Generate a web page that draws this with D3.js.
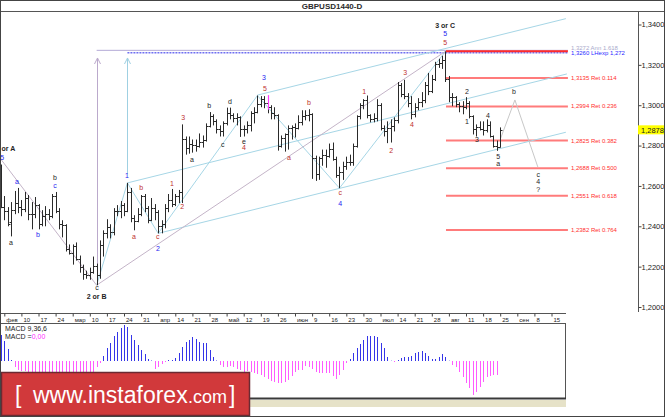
<!DOCTYPE html>
<html><head><meta charset="utf-8">
<script src="https://cdn.jsdelivr.net/npm/d3@7"></script>
<style>
html,body{margin:0;padding:0;background:#fff;}
svg{display:block;}
text{font-family:"Liberation Sans",Arial,sans-serif;}
</style></head><body>
<svg id="c" width="665" height="417"></svg>
<script>
// ---------------- DATA ----------------
const title = "GBPUSD1440-D";
// daily OHLC, first row is drawn at bar index -1
const startIndex = -1;
const ohlc = [
["02.02",1.2620,1.2706,1.2490,1.2494],["03.02",1.2494,1.2550,1.2430,1.2478],
["06.02",1.2478,1.2495,1.2400,1.2410],["07.02",1.2420,1.2520,1.2350,1.2480],["08.02",1.2480,1.2575,1.2460,1.2515],["09.02",1.2515,1.2590,1.2465,1.2495],["10.02",1.2495,1.2530,1.2450,1.2485],
["13.02",1.2485,1.2570,1.2470,1.2540],["14.02",1.2540,1.2555,1.2430,1.2460],["15.02",1.2460,1.2520,1.2385,1.2460],["16.02",1.2460,1.2545,1.2440,1.2505],["17.02",1.2505,1.2510,1.2385,1.2410],
["20.02",1.2410,1.2480,1.2400,1.2450],["21.02",1.2450,1.2500,1.2400,1.2460],["22.02",1.2460,1.2485,1.2430,1.2450],["23.02",1.2450,1.2560,1.2440,1.2550],["24.02",1.2550,1.2570,1.2465,1.2475],
["27.02",1.2475,1.2490,1.2385,1.2410],["28.02",1.2410,1.2430,1.2345,1.2405],["01.03",1.2405,1.2410,1.2275,1.2285],["02.03",1.2285,1.2310,1.2260,1.2270],["03.03",1.2270,1.2310,1.2210,1.2300],
["06.03",1.2300,1.2320,1.2230,1.2240],["07.03",1.2240,1.2255,1.2170,1.2200],["08.03",1.2200,1.2210,1.2135,1.2165],["09.03",1.2165,1.2180,1.2140,1.2160],["10.03",1.2160,1.2195,1.2135,1.2175],
["13.03",1.2175,1.2250,1.2165,1.2205],["14.03",1.2205,1.2215,1.2108,1.2160],["15.03",1.2160,1.2330,1.2140,1.2305],["16.03",1.2305,1.2380,1.2250,1.2365],["17.03",1.2365,1.2435,1.2340,1.2395],
["20.03",1.2395,1.2410,1.2340,1.2370],["21.03",1.2370,1.2490,1.2355,1.2475],["22.03",1.2475,1.2505,1.2450,1.2475],["23.03",1.2475,1.2525,1.2440,1.2505],["24.03",1.2505,1.2515,1.2450,1.2475],
["27.03",1.2475,1.2615,1.2470,1.2570],["28.03",1.2570,1.2590,1.2420,1.2440],["29.03",1.2440,1.2455,1.2380,1.2425],["30.03",1.2425,1.2490,1.2420,1.2460],["31.03",1.2460,1.2555,1.2450,1.2550],
["03.04",1.2550,1.2560,1.2470,1.2490],["04.04",1.2490,1.2500,1.2415,1.2430],["05.04",1.2430,1.2540,1.2425,1.2490],["06.04",1.2490,1.2510,1.2430,1.2470],["07.04",1.2470,1.2480,1.2365,1.2400],
["10.04",1.2400,1.2430,1.2365,1.2410],["11.04",1.2410,1.2510,1.2390,1.2490],["12.04",1.2490,1.2560,1.2470,1.2530],["13.04",1.2530,1.2585,1.2495,1.2510],["14.04",1.2510,1.2560,1.2500,1.2550],
["17.04",1.2550,1.2580,1.2515,1.2570],["18.04",1.2570,1.2905,1.2515,1.2835],["19.04",1.2835,1.2845,1.2755,1.2790],["20.04",1.2790,1.2845,1.2760,1.2810],["21.04",1.2810,1.2830,1.2765,1.2805],
["24.04",1.2805,1.2830,1.2770,1.2800],["25.04",1.2800,1.2860,1.2790,1.2820],["26.04",1.2820,1.2850,1.2790,1.2830],["27.04",1.2830,1.2910,1.2820,1.2895],["28.04",1.2895,1.2966,1.2890,1.2945],
["01.05",1.2945,1.2955,1.2900,1.2920],["02.05",1.2920,1.2930,1.2860,1.2880],["03.05",1.2880,1.2900,1.2845,1.2870],["04.05",1.2870,1.2920,1.2845,1.2910],["05.05",1.2910,1.2988,1.2900,1.2960],
["08.05",1.2960,1.2988,1.2930,1.2950],["09.05",1.2950,1.2960,1.2915,1.2935],["10.05",1.2935,1.2960,1.2900,1.2940],["11.05",1.2940,1.2945,1.2843,1.2880],["12.05",1.2880,1.2900,1.2845,1.2880],
["15.05",1.2880,1.2920,1.2860,1.2900],["16.05",1.2900,1.2970,1.2870,1.2960],["17.05",1.2960,1.2990,1.2910,1.2965],["18.05",1.2965,1.3048,1.2960,1.3005],["19.05",1.3005,1.3045,1.2990,1.3030],
["22.05",1.3030,1.3045,1.2985,1.3010],["23.05",1.3010,1.3025,1.2960,1.2990],["24.05",1.2990,1.3000,1.2930,1.2960],["25.05",1.2960,1.2990,1.2930,1.2950],["26.05",1.2950,1.2955,1.2775,1.2800],
["29.05",1.2800,1.2850,1.2790,1.2840],["30.05",1.2840,1.2860,1.2770,1.2855],["31.05",1.2855,1.2900,1.2780,1.2885],["01.06",1.2885,1.2900,1.2830,1.2890],["02.06",1.2890,1.2910,1.2840,1.2885],
["05.06",1.2885,1.2950,1.2880,1.2915],["06.06",1.2915,1.2975,1.2900,1.2945],["07.06",1.2945,1.2975,1.2925,1.2950],["08.06",1.2950,1.2980,1.2920,1.2955],["09.06",1.2955,1.2960,1.2635,1.2740],
["12.06",1.2740,1.2750,1.2625,1.2660],["13.06",1.2660,1.2745,1.2630,1.2740],["14.06",1.2740,1.2780,1.2700,1.2755],["15.06",1.2755,1.2780,1.2690,1.2750],["16.06",1.2750,1.2810,1.2740,1.2785],
["19.06",1.2785,1.2815,1.2725,1.2735],["20.06",1.2735,1.2745,1.2640,1.2655],["21.06",1.2655,1.2695,1.2589,1.2670],["22.06",1.2670,1.2720,1.2630,1.2700],["23.06",1.2700,1.2745,1.2680,1.2720],
["26.06",1.2720,1.2755,1.2700,1.2720],["27.06",1.2720,1.2810,1.2700,1.2800],["28.06",1.2800,1.2950,1.2790,1.2945],["29.06",1.2945,1.3010,1.2930,1.3000],["30.06",1.3000,1.3030,1.2980,1.3025],
["03.07",1.3025,1.3048,1.2935,1.2950],["04.07",1.2950,1.2955,1.2915,1.2930],["05.07",1.2930,1.2960,1.2915,1.2935],["06.07",1.2935,1.3030,1.2920,1.3000],["07.07",1.3000,1.3010,1.2875,1.2885],
["10.07",1.2885,1.2900,1.2845,1.2870],["11.07",1.2870,1.2920,1.2812,1.2885],["12.07",1.2885,1.2930,1.2815,1.2895],["13.07",1.2895,1.2940,1.2870,1.2925],["14.07",1.2925,1.3115,1.2910,1.3100],
["17.07",1.3100,1.3110,1.3040,1.3055],["18.07",1.3055,1.3126,1.3030,1.3045],["19.07",1.3045,1.3060,1.2990,1.3010],["20.07",1.3010,1.3045,1.2930,1.2955],["21.07",1.2955,1.3010,1.2940,1.2990],
["24.07",1.2990,1.3035,1.2975,1.3015],["25.07",1.3015,1.3065,1.2990,1.3025],["26.07",1.3025,1.3115,1.3010,1.3100],["27.07",1.3100,1.3160,1.3050,1.3070],["28.07",1.3070,1.3150,1.3060,1.3130],
["31.07",1.3130,1.3215,1.3120,1.3205],["01.08",1.3205,1.3230,1.3185,1.3210],["02.08",1.3210,1.3245,1.3180,1.3225],["03.08",1.3225,1.3267,1.3115,1.3130],["04.08",1.3130,1.3145,1.3015,1.3040],
["07.08",1.3040,1.3060,1.2995,1.3040],["08.08",1.3040,1.3045,1.2990,1.3005],["09.08",1.3005,1.3015,1.2965,1.2995],["10.08",1.2995,1.3020,1.2955,1.2990],["11.08",1.2990,1.3040,1.2980,1.3010],
["14.08",1.3010,1.3020,1.2935,1.2945],["15.08",1.2945,1.2950,1.2855,1.2880],["16.08",1.2880,1.2905,1.2845,1.2890],["17.08",1.2890,1.2920,1.2875,1.2880],["18.08",1.2880,1.2920,1.2850,1.2875],
["21.08",1.2875,1.2930,1.2865,1.2900],["22.08",1.2900,1.2920,1.2840,1.2845],["23.08",1.2845,1.2850,1.2790,1.2800],["24.08",1.2800,1.2825,1.2774,1.2795],["25.08",1.2795,1.2890,1.2790,1.2878]
];
const lastPrice = 1.2878;

// MACD 9,36,6 histogram, one value per bar (same start index)
const macdHist = [
0.0026,0.0020,0.0012,0.0001,-0.0006,-0.0009,-0.0010,-0.0010,-0.0011,-0.0011,
-0.0012,-0.0013,-0.0013,-0.0012,-0.0012,-0.0011,-0.0011,-0.0012,-0.0013,-0.0015,
-0.0016,-0.0017,-0.0018,-0.0019,-0.0019,-0.0018,-0.0016,-0.0012,-0.0006,-0.0002,
0.0005,0.0013,0.0018,0.0025,0.0029,0.0033,0.0036,0.0034,0.0026,0.0021,
0.0016,0.0011,0.0007,0.0002,0.00005,-0.0008,-0.0006,-0.0003,-0.0001,0.0001,
0.0001,0.0003,0.0008,0.0014,0.0019,0.0021,0.0024,0.0022,0.0019,0.0018,
0.0018,0.0011,0.0004,0.00005,-0.0004,-0.0006,-0.0006,-0.0005,-0.0006,-0.0008,
-0.0009,-0.0011,-0.0010,-0.0011,-0.0012,-0.0013,-0.0014,-0.0016,-0.0018,-0.0020,
-0.0021,-0.0022,-0.0022,-0.0021,-0.0019,-0.0015,-0.0011,-0.0009,-0.0009,-0.0005,
-0.0006,-0.0008,-0.0011,-0.0012,-0.0012,-0.0012,-0.0012,-0.0015,-0.0018,-0.0014,
-0.0009,-0.0002,0.0002,0.0008,0.0013,0.0017,0.0021,0.0025,0.0025,0.0025,
0.0024,0.0018,0.0013,0.0004,0.00003,-0.0001,0.0001,0.0003,0.0004,0.0004,
0.0005,0.0008,0.0009,0.0010,0.0008,0.0005,0.0002,0.0002,0.0004,0.0007,
0.0004,0.00003,-0.0004,-0.0006,-0.0011,-0.0016,-0.0022,-0.0027,-0.0034,-0.0031,
-0.0026,-0.0021,-0.0016,-0.0015,-0.0014,-0.0014
];

// price axis
const priceTicks = [1.20,1.22,1.24,1.26,1.28,1.30,1.32,1.34];
// date axis (weekly Fridays), bar indices and labels
const dateTickIdx = [0,5,10,15,20,25,30,35,40,45,50,55,60,65,70,75,80,85,90,95,100,105,110,115,120,125,130,135,140,145,150,155,160];
const dateLabels = ["фев","10","17","24","мар","10","17","24","31","апр","14","21","28","май","12","19","26","июн","9","16","23","30","июл","14","21","28","авг","11","18","25","сен","8","15"];

// Fibonacci retracement levels
const fibLevels = [1.3135,1.2994,1.2825,1.2688,1.2551,1.2382];
const fibRatios = ["0.114","0.236","0.382","0.500","0.618","0.764"];
const fibZero = 1.3267;
const fibRange = [129.15,164.8];
// extension levels
const extLevels = [1.3272,1.3260];
const extNames = ["Ann 1.618","LHexp 1,272"];
const extStart = [27,36];

// channel / wave lines: [bar index, price]
const channelUpper = [[74,1.3050],[164.2,1.3429]];
const channelMiddle = [[36,1.2615],[164.5,1.3155]];
const channelLower = [[45,1.2365],[164.2,1.2866]];
const wavePath = [[27,1.2108],[36,1.2615],[45,1.2365],[74,1.3048],[98,1.2589],[129,1.3267]];
const trendLine = [[-1.26,1.2738],[27,1.2108],[129,1.3267]];
const projection = [[145,1.2830],[149.3,1.3026],[156,1.2694]];
const arrowsUp = [[27,1.2120,1.3234],[36,1.2660,1.3234]];
const markBar = [77,1.3050,1.2978];

// wave labels: [bar index, price, text, colour key, bold]
const waveLabels = [
[-0.8,1.2783,"or A","k",1],[-0.6,1.2743,"5","b",0],[1.96,1.2317,"a","k",0],[3.71,1.2620,"a","b",0],
[9.85,1.2357,"b","b",0],[14.82,1.2640,"b","k",0],[14.82,1.2600,"c","b",0],[27.1,1.2094,"c","k",0],
[27.0,1.2050,"2 or B","k",1],[35.9,1.2649,"1","b",0],[40.0,1.2590,"b","r",0],[37.9,1.2347,"a","r",0],
[44.9,1.2347,"c","r",0],[44.9,1.2292,"2","b",0],[49.0,1.2610,"1","r",0],[52.0,1.2496,"2","r",0],
[52.3,1.2941,"3","r",0],[54.9,1.2733,"a","k",0],[59.9,1.2996,"b","k",0],[63.9,1.2803,"c","k",0],
[66.0,1.3016,"d","k",0],[70.1,1.2818,"e","k",0],[70.1,1.2788,"4","r",0],[75.9,1.3135,"3","b",0],
[76.2,1.3085,"5","r",0],[89.1,1.3011,"b","r",0],[83.2,1.2743,"a","r",0],[98.2,1.2565,"c","r",0],
[98.2,1.2515,"4","b",0],[105.2,1.3070,"1","r",0],[117.2,1.3160,"3","r",0],[119.2,1.2902,"4","r",0],
[113.1,1.2773,"2","r",0],[128.9,1.3393,"3 or C","k",1],[128.9,1.3353,"5","b",0],[128.9,1.3313,"5","r",0],
[135.3,1.3066,"2","k",0],[135.3,1.2921,"1","k",0],[141.4,1.2947,"4","k",0],[138.2,1.2828,"3","k",0],
[144.4,1.2748,"5","k",0],[144.4,1.2709,"a","k",0],[149.0,1.3066,"b","k",0],[156.1,1.2654,"c","k",0],
[156.1,1.2620,"4","k",0],[156.1,1.2580,"?","k",0]
];

// ---------------- DRAW ----------------
const W = 665, H = 417;
const svg = d3.select("#c");
const x = d3.scaleLinear().domain([0,145]).range([4.3,500.2]);
const y = d3.scaleLinear().domain([1.20,1.34]).range([307,24.5]);
const my = d3.scaleLinear().domain([-0.0038,0.0038]).range([399,323]);
const px = v => Math.round(x(v)) + 0.5;
const py = v => Math.round(y(v)) + 0.5;
const fmt = v => v.toFixed(4).replace(".", ",");
const col = {k:"#1e1e1e", r:"#c0302e", b:"#2424f0"};
const line = d3.line().x(d => x(d[0])).y(d => y(d[1]));

svg.append("rect").attr("width",W).attr("height",H).attr("fill","#fff");
svg.append("defs").append("clipPath").attr("id","main")
  .append("rect").attr("x",1).attr("y",12).attr("width",637).attr("height",300);
const g = svg.append("g").attr("clip-path","url(#main)");

// extension horizontal lines
g.append("line").attr("x1",x(extStart[0])).attr("x2",x(fibRange[1])).attr("y1",y(extLevels[0])).attr("y2",y(extLevels[0]))
  .attr("stroke","#b4aad6").attr("stroke-width",1);
g.append("line").attr("x1",x(extStart[1])).attr("x2",x(fibRange[1])).attr("y1",y(extLevels[1])).attr("y2",y(extLevels[1]))
  .attr("stroke","#6f6ff2").attr("stroke-width",1.6).attr("stroke-dasharray","2,1");
// fib zero level
g.append("line").attr("x1",x(fibRange[0])).attr("x2",x(fibRange[1])).attr("y1",y(fibZero)).attr("y2",y(fibZero))
  .attr("stroke","#ff2a2a").attr("stroke-width",2);
// fib levels
fibLevels.forEach((lv,k) => {
  g.append("line").attr("x1",x(fibRange[0])).attr("x2",x(fibRange[1])).attr("y1",y(lv)).attr("y2",y(lv))
    .attr("stroke","#ff7b7b").attr("stroke-width",2);
  g.append("text").attr("x",x(fibRange[1])+3).attr("y",y(lv)+2).attr("font-size",6).attr("fill","#ff2e2e")
    .text(fmt(lv) + " Ret " + fibRatios[k]);
});
g.append("text").attr("x",x(fibRange[1])+3).attr("y",y(extLevels[0])-0.5).attr("font-size",6).attr("fill","#aaaacc")
  .text(fmt(extLevels[0]) + " " + extNames[0]);
g.append("text").attr("x",x(fibRange[1])+3).attr("y",y(extLevels[1])+2.5).attr("font-size",6).attr("fill","#2a2aff")
  .text(fmt(extLevels[1]) + " " + extNames[1]);

// channels & wave lines
[channelUpper, channelMiddle, channelLower].forEach(c =>
  g.append("path").attr("d",line(c)).attr("fill","none").attr("stroke","#a6d6e6").attr("stroke-width",1));
g.append("path").attr("d",line(wavePath)).attr("fill","none").attr("stroke","#a6d6e6").attr("stroke-width",1);
g.append("path").attr("d",line(trendLine)).attr("fill","none").attr("stroke","#c4b4c8").attr("stroke-width",1);
g.append("path").attr("d",line(projection)).attr("fill","none").attr("stroke","#c8c8c8").attr("stroke-width",1);

// vertical arrows
arrowsUp.forEach((a,k) => {
  const c = k === 0 ? "#bba9cc" : "#9fd0e2";
  const xa = px(a[0]), yt = y(a[2]);
  g.append("line").attr("x1",xa).attr("x2",xa).attr("y1",y(a[1])).attr("y2",yt).attr("stroke",c);
  g.append("path").attr("d",`M${xa-3},${yt+6}L${xa},${yt}L${xa+3},${yt+6}`).attr("fill","none").attr("stroke",c);
});

// OHLC bars
const bars = g.append("g").attr("stroke","#2a2a2a").attr("stroke-width",1).attr("fill","none");
ohlc.forEach((d,k) => {
  const i = k + startIndex, xi = px(i);
  bars.append("path").attr("d",
    `M${xi},${y(d[2])}V${y(d[3])}M${xi-2},${py(d[1])}H${xi}M${xi},${py(d[4])}H${xi+2}`);
});
// highlighted bar marker
g.append("line").attr("x1",px(markBar[0])).attr("x2",px(markBar[0])).attr("y1",y(markBar[1])).attr("y2",y(markBar[2]))
  .attr("stroke","#ff3cff").attr("stroke-width",1.2);

// wave labels
waveLabels.forEach(l => {
  g.append("text").attr("x",x(l[0])).attr("y",y(l[1])).attr("dy","0.35em")
    .attr("text-anchor", l[2] === "or A" ? "start" : "middle")
    .attr("font-size",7).attr("font-weight", l[4] ? "bold" : "normal")
    .attr("fill",col[l[3]]).text(l[2]);
});

// title
svg.append("text").attr("x",332).attr("y",9).attr("text-anchor","middle").attr("font-size",8)
  .attr("font-weight","bold").attr("fill","#2a2a2a").text(title);
svg.append("line").attr("x1",0).attr("x2",W).attr("y1",11.5).attr("y2",11.5).attr("stroke","#555");

// price axis
svg.append("line").attr("x1",638.5).attr("x2",638.5).attr("y1",12).attr("y2",312).attr("stroke","#555");
const pa = svg.append("g").attr("transform","translate(638.5,0)")
  .call(d3.axisRight(y).tickValues(priceTicks).tickSize(3).tickPadding(0).tickFormat(fmt));
pa.select(".domain").remove();
pa.selectAll("line").attr("stroke","#444");
pa.selectAll("text").attr("font-size",7.5).attr("fill","#222").attr("font-family","Liberation Sans");
// last price box
svg.append("rect").attr("x",638).attr("y",y(lastPrice)-4.5).attr("width",27).attr("height",9).attr("fill","#ffff00");
svg.append("text").attr("x",641).attr("y",y(lastPrice)+2.7).attr("font-size",7.5).attr("fill","#222").text(fmt(lastPrice));

// date axis
svg.append("line").attr("x1",0).attr("x2",566).attr("y1",313.5).attr("y2",313.5).attr("stroke","#555");
const da = svg.append("g").attr("transform","translate(0,313.5)")
  .call(d3.axisBottom(x).tickValues(dateTickIdx).tickSize(3).tickFormat((d,k) => dateLabels[k]));
da.select(".domain").remove();
da.selectAll("line").attr("stroke","#444");
da.selectAll("text").attr("text-anchor","start").attr("x",1.5).attr("y",8).attr("dy",0)
  .attr("font-size",6).attr("fill","#222").attr("font-family","Liberation Sans");

// MACD panel
svg.append("rect").attr("x",0.5).attr("y",323.5).attr("width",565).attr("height",75).attr("fill","#fff").attr("stroke","#555");
const mg = svg.append("g").attr("stroke-width",1);
macdHist.forEach((v,k) => {
  const i = k + startIndex, xi = px(i);
  mg.append("line").attr("x1",xi).attr("x2",xi).attr("y1",my(0)).attr("y2",my(v))
    .attr("stroke", v >= 0 ? "#3535e8" : "#ff5cff");
});
svg.append("text").attr("x",5).attr("y",331).attr("font-size",7).attr("fill","#222").text("MACD 9,36,6");
const mt = svg.append("text").attr("x",5).attr("y",338.5).attr("font-size",7).attr("fill","#222");
mt.append("tspan").text("MACD =");
mt.append("tspan").attr("fill","#ff2cff").text("0,00");
svg.append("line").attr("x1",0).attr("x2",566).attr("y1",398.5).attr("y2",398.5).attr("stroke","#3a3a3a").attr("stroke-width",2);
svg.append("rect").attr("x",0).attr("y",400).attr("width",566).attr("height",7).attr("fill","#e6e2c8");

// logo
const lg = svg.append("g").attr("fill","#fff");
lg.append("rect").attr("x",1.5).attr("y",372.5).attr("width",248).attr("height",43)
  .attr("fill","#d1393b").attr("stroke","#6b2a32").attr("stroke-width",1.5);
lg.append("text").attr("x",15).attr("y",403).attr("font-size",23).text("[");
lg.append("text").attr("x",33).attr("y",403).attr("font-size",23).text("www.instaforex");
lg.append("text").attr("x",188).attr("y",403).attr("font-size",18).text(".com");
lg.append("text").attr("x",229).attr("y",403).attr("font-size",23).text("]");

// outer frame
svg.append("rect").attr("x",0.5).attr("y",0.5).attr("width",W-1).attr("height",H-1)
  .attr("fill","none").attr("stroke","#444");
</script></body></html>
